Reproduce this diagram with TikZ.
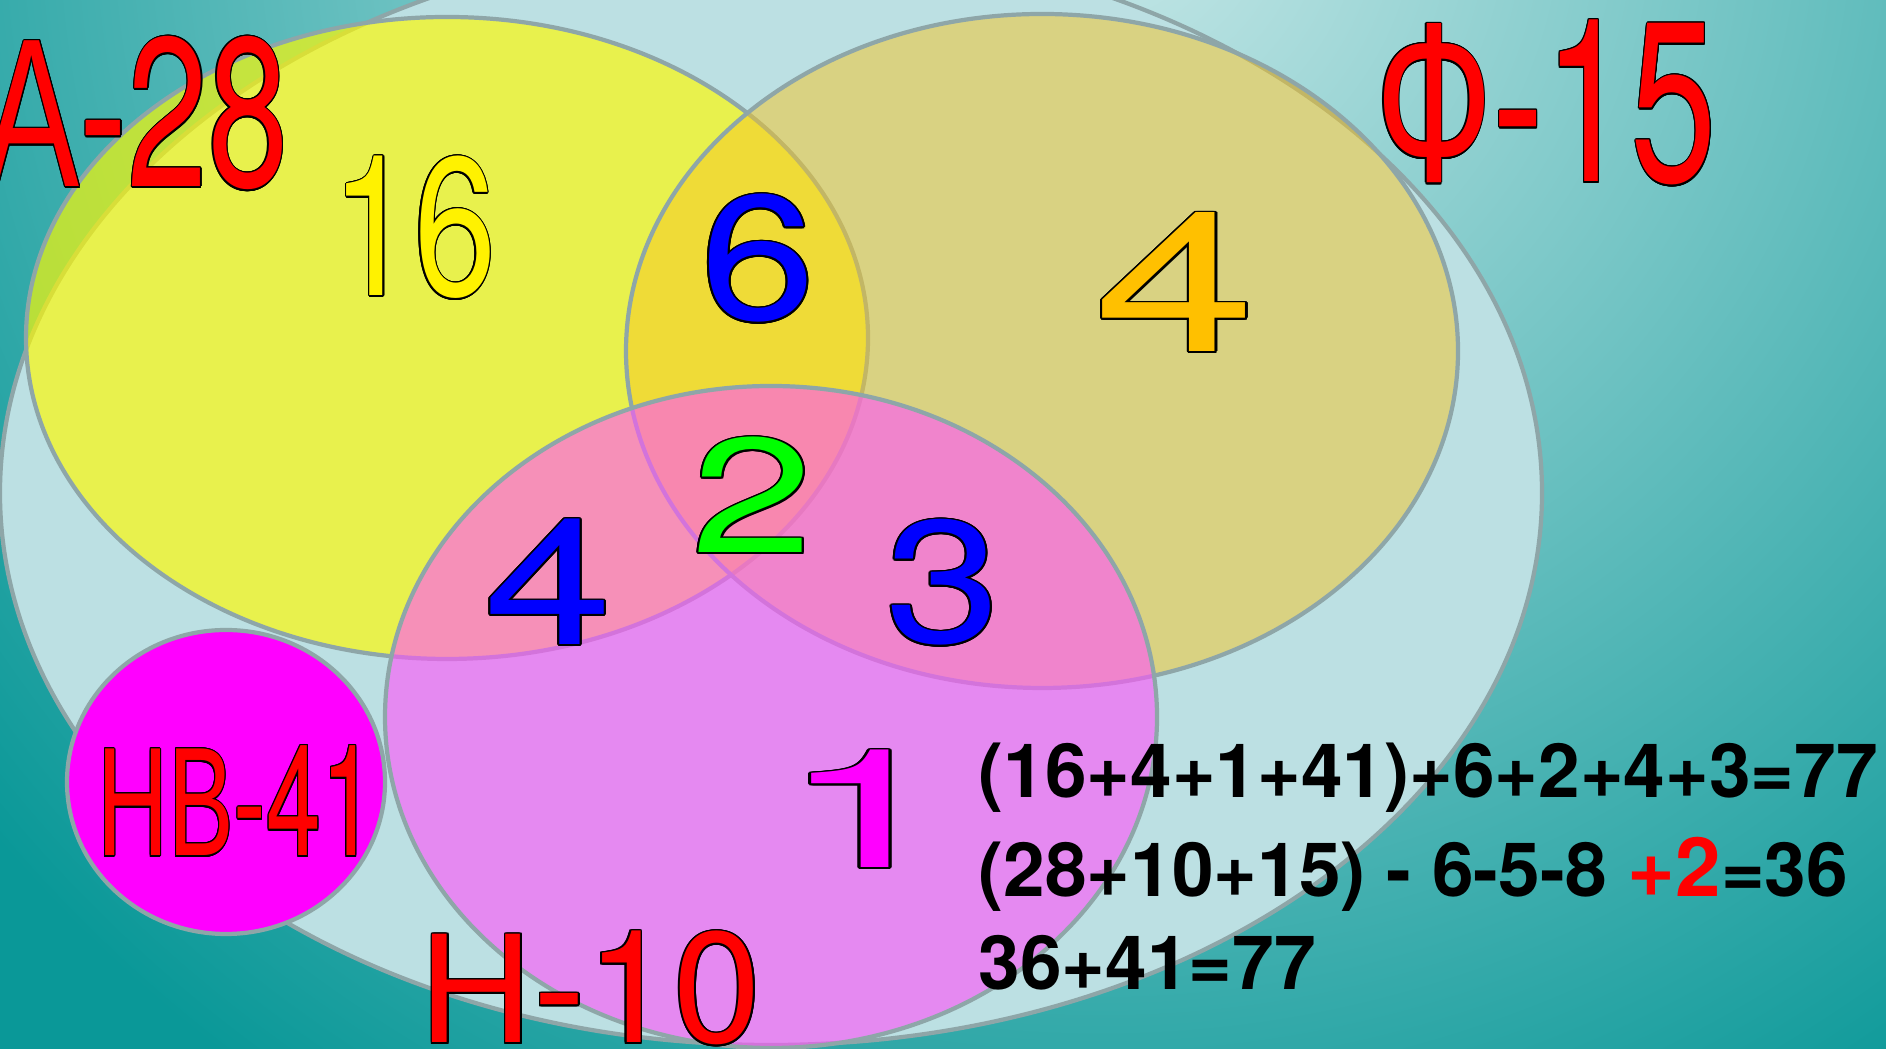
\documentclass[tikz,border=0pt]{standalone}
\usepackage{fontspec}
\setmainfont{TeX Gyre Heros}
\newfontfamily\cyr{Liberation Sans}
\usepackage[copies]{contour}
\contourlength{0.45pt}

\definecolor{bgLight}{RGB}{200,232,232}
\definecolor{bgDark}{RGB}{10,152,152}
\definecolor{uniFill}{RGB}{188,224,227}
\definecolor{setLine}{RGB}{142,166,168}
\definecolor{aFill}{RGB}{255,251,0}
\definecolor{fFill}{RGB}{246,198,35}
\definecolor{nFill}{RGB}{255,84,251}
\definecolor{numOrange}{RGB}{255,192,0}
\definecolor{numMagenta}{RGB}{255,0,255}
\definecolor{numRed}{RGB}{255,0,0}

\pgfdeclareradialshading{bgglow}{\pgfpoint{0bp}{0bp}}{color(0bp)=(bgLight); color(411bp)=(bgDark); color(600bp)=(bgDark)}

\begin{document}
\begin{tikzpicture}[
    setline/.style={draw=setLine, line width=1.2pt},
    num/.style={inner sep=0pt, anchor=base},
    calc/.style={inner sep=0pt, anchor=base west, font=\bfseries\fontsize{21.3}{22}\selectfont}
]
    \useasboundingbox (0,0) rectangle (18.86,10.49);

    % Background
    \begin{scope}
        \clip (0,0) rectangle (18.86,10.49);
        \node[inner sep=0pt] (glow) at (11,11.49) {\pgfuseshading{bgglow}};
    \end{scope}

    % Whole class
    \draw[setline, fill=uniFill] (7.71,5.56) ellipse (7.71 and 5.52);

    % Sets A, F, N
    \draw[setline, fill=aFill, fill opacity=0.66] (4.47,7.11) ellipse (4.21 and 3.21);
    \draw[setline, fill=fFill, fill opacity=0.5] (10.42,6.98) ellipse (4.16 and 3.37);
    \draw[setline, fill=nFill, fill opacity=0.614] (7.71,3.32) ellipse (3.86 and 3.31);

    % Nobody
    \draw[setline, fill=numMagenta] (2.26,2.67) ellipse (1.59 and 1.52);

    % Set names
    \node[num, text=numRed, xscale=0.68, font=\fontsize{60.3}{60}\selectfont] (nameA) at (1.36,8.62) {\contour{black}{{\cyr А}-28}};
    \node[num, text=numRed, xscale=0.68, font=\fontsize{64.9}{65}\selectfont] (nameF) at (15.46,8.67) {\contour{black}{{\cyr Ф}-15}};
    \node[num, text=numRed, font=\fontsize{44.8}{45}\selectfont] (nameN) at (5.905,0.06) {\contour{black}{{\cyr Н}-10}};
    \node[num, text=numRed, xscale=0.635, font=\fontsize{44.1}{44}\selectfont] (nameNB) at (2.366,1.93) {\contour{black}{{\cyr НВ}-41}};

    % Region counts
    \node[num, text=yellow, xscale=0.75, font=\fontsize{56}{56}\selectfont] (onlyA) at (4.14,7.53) {\contour{black}{16}};
    \node[num, text=blue, xscale=1.17, font=\fontsize{50.4}{50}\selectfont] (AF) at (7.58,7.29) {\contour{black}{6}};
    \node[num, text=numOrange, xscale=1.48, font=\fontsize{55.8}{56}\selectfont] (onlyF) at (11.755,6.97) {\contour{black}{4}};
    \node[num, text=green, xscale=1.34, font=\fontsize{46.4}{46}\selectfont] (AFN) at (7.525,4.96) {\contour{black}{2}};
    \node[num, text=blue, xscale=1.3, font=\fontsize{50.4}{50}\selectfont] (AN) at (5.485,4.04) {\contour{black}{4}};
    \node[num, text=blue, xscale=1.19, font=\fontsize{49.5}{50}\selectfont] (FN) at (9.43,4.06) {\contour{black}{3}};
    \node[num, text=numMagenta, xscale=1.9, font=\fontsize{47.2}{47}\selectfont] (onlyN) at (8.67,1.81) {\contour{black}{1}};

    % Sums
    \node[calc] (sumOne) at (9.78,2.51) {(16+4+1+41)+6+2+4+3=77};
    \node[calc] (sumTwo) at (9.78,1.52) {(28+10+15) - 6-5-8 {\color{numRed}\fontsize{23.3}{24}\selectfont+2}=36};
    \node[calc] (sumThree) at (9.78,0.59) {36+41=77};

\end{tikzpicture}
\end{document}
